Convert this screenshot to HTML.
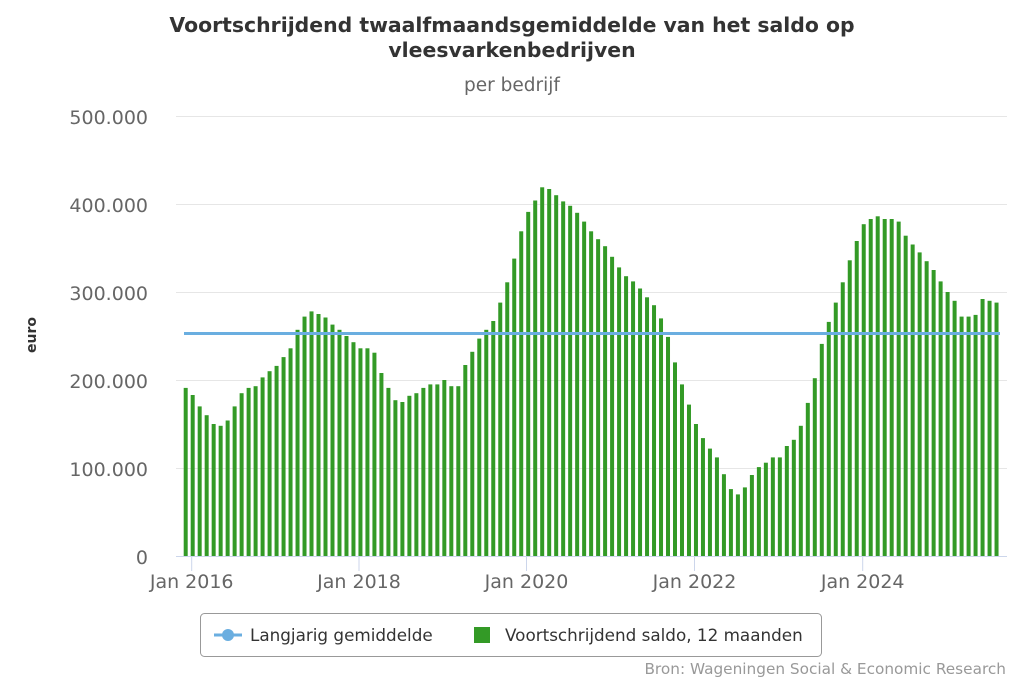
<!DOCTYPE html>
<html><head><meta charset="utf-8"><style>
body{margin:0;background:#fff;width:1024px;height:683px;overflow:hidden;font-family:"DejaVu Sans",sans-serif}
</style></head><body>
<svg id="c" width="1024" height="683" xmlns="http://www.w3.org/2000/svg" font-family="DejaVu Sans, sans-serif">
<text x="512" y="32" text-anchor="middle" font-size="20.4" font-weight="bold" fill="#333">Voortschrijdend twaalfmaandsgemiddelde van het saldo op</text>
<text x="512" y="57" text-anchor="middle" font-size="20.4" font-weight="bold" fill="#333">vleesvarkenbedrijven</text>
<text x="512" y="91" text-anchor="middle" font-size="18.5" fill="#666">per bedrijf</text>
<g stroke="#e6e6e6" stroke-width="1">
<line x1="176" x2="1007" y1="116.5" y2="116.5"/><line x1="176" x2="1007" y1="204.5" y2="204.5"/>
<line x1="176" x2="1007" y1="292.5" y2="292.5"/><line x1="176" x2="1007" y1="380.5" y2="380.5"/>
<line x1="176" x2="1007" y1="468.5" y2="468.5"/>
</g>
<g font-size="19" fill="#666" text-anchor="end">
<text x="148" y="124">500.000</text><text x="148" y="212">400.000</text><text x="148" y="300">300.000</text>
<text x="148" y="388">200.000</text><text x="148" y="476">100.000</text><text x="148" y="564">0</text>
</g>
<text transform="translate(36,335) rotate(-90)" text-anchor="middle" font-size="14" font-weight="bold" fill="#333">euro</text>
<g id="bars" fill="#339a26"></g>
<line x1="184" x2="1000" y1="333.5" y2="333.5" stroke="#6aaee0" stroke-width="3"/>
<line x1="176" x2="1007" y1="556.5" y2="556.5" stroke="#ccd6eb"/>
<g stroke="#ccd6eb"><line x1="191.7" x2="191.7" y1="556" y2="571"/><line x1="359" x2="359" y1="556" y2="571"/><line x1="526.5" x2="526.5" y1="556" y2="571"/><line x1="694.5" x2="694.5" y1="556" y2="571"/><line x1="862.7" x2="862.7" y1="556" y2="571"/></g>
<g font-size="19" fill="#666" text-anchor="middle">
<text x="191.7" y="588">Jan 2016</text><text x="359" y="588">Jan 2018</text><text x="526.5" y="588">Jan 2020</text>
<text x="694.5" y="588">Jan 2022</text><text x="862.7" y="588">Jan 2024</text>
</g>
<rect x="200.5" y="613.5" width="621" height="43" rx="4" fill="#fff" stroke="#999"/>
<line x1="214" x2="242" y1="635" y2="635" stroke="#6aaee0" stroke-width="3"/>
<circle cx="228" cy="635" r="6" fill="#6aaee0"/>
<text x="250" y="641" font-size="16.8" fill="#333">Langjarig gemiddelde</text>
<rect x="474" y="627" width="16" height="16" fill="#339a26"/>
<text x="505" y="641" font-size="16.8" fill="#333">Voortschrijdend saldo, 12 maanden</text>
<text x="1006" y="674" text-anchor="end" font-size="15.3" fill="#999">Bron: Wageningen Social &amp; Economic Research</text>
</svg>
<script>
var v=[191,183,170,160,150,148,154,170,185,191,193,203,
210,216,226,236,257,272,278,275,271,263,257,250,
243,236,236,231,208,191,177,175,182,185,191,195,
195,200,193,193,217,232,247,257,267,288,311,338,
369,391,404,419,417,410,403,398,390,380,369,360,
352,340,328,318,312,304,294,285,270,249,220,
195,172,150,134,122,112,93,76,70,78,92,101,
106,112,112,125,132,148,174,202,241,266,288,311,
336,358,377,383,386,383,383,380,364,354,345,335,
325,312,300,290,272,272,274,292,290,288];
var g=document.getElementById('bars'),s='';
for(var i=0;i<v.length;i++){var x=185.7+i*6.99-2,h=v[i]*0.88;
s+='<rect x="'+x.toFixed(2)+'" y="'+(556-h).toFixed(1)+'" width="4" height="'+h.toFixed(1)+'"/>';}
g.innerHTML=s;
</script>
</body></html>
